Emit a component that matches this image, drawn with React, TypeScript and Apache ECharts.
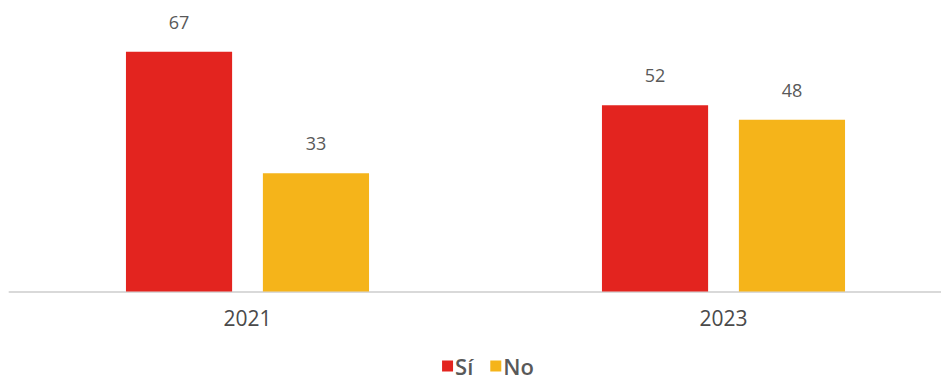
import React, { useEffect, useRef } from "react";
import * as echarts from "echarts";

const categories = ["2021", "2023"];
const siValues = [67, 52];
const noValues = [33, 48];
const seriesNames = ["Sí", "No"];

export default function App() {
  const ref = useRef<HTMLDivElement>(null);
  useEffect(() => {
    if (!ref.current) return;
    const chart = echarts.init(ref.current, undefined, { renderer: "svg" });
    const labelStyle = {
      show: true,
      position: "top" as const,
      distance: 21,
      color: "#595959",
      fontSize: 18,
      fontFamily: "Open Sans",
    };
    chart.setOption({
      animation: false,
      textStyle: { fontFamily: "Open Sans" },
      grid: { left: 1.5, right: 6.5, top: 15, bottom: 88.5, containLabel: false },
      legend: {
        bottom: -2,
        left: "center",
        itemWidth: 11,
        itemHeight: 11,
        itemGap: 17,
        icon: "rect",
        textStyle: {
          color: "#595959",
          fontSize: 22,
          fontWeight: 600,
          fontFamily: "Open Sans",
          padding: [0, 0, 0, -3],
        },
        data: seriesNames,
      },
      xAxis: {
        type: "category",
        data: categories,
        axisLine: { lineStyle: { color: "#d9d9d9", width: 2 } },
        axisTick: { show: false },
        axisLabel: { color: "#4a4a4a", fontSize: 21, fontWeight: 500, margin: 16, fontFamily: "Open Sans" },
      },
      yAxis: {
        type: "value",
        min: 0,
        max: 75,
        show: false,
        splitLine: { show: false },
      },
      series: [
        {
          name: seriesNames[0],
          type: "bar",
          data: siValues,
          barWidth: "22.3%",
          barGap: "29%",
          itemStyle: { color: "#e3241f" },
          label: labelStyle,
        },
        {
          name: seriesNames[1],
          type: "bar",
          data: noValues,
          barWidth: "22.3%",
          itemStyle: { color: "#f5b41a" },
          label: labelStyle,
        },
      ],
    });
    return () => chart.dispose();
  }, []);
  return (
    <div style={{ width: 941, height: 372, overflow: "hidden" }}>
      <div ref={ref} style={{ width: 960, height: 372 }} />
    </div>
  );
}
